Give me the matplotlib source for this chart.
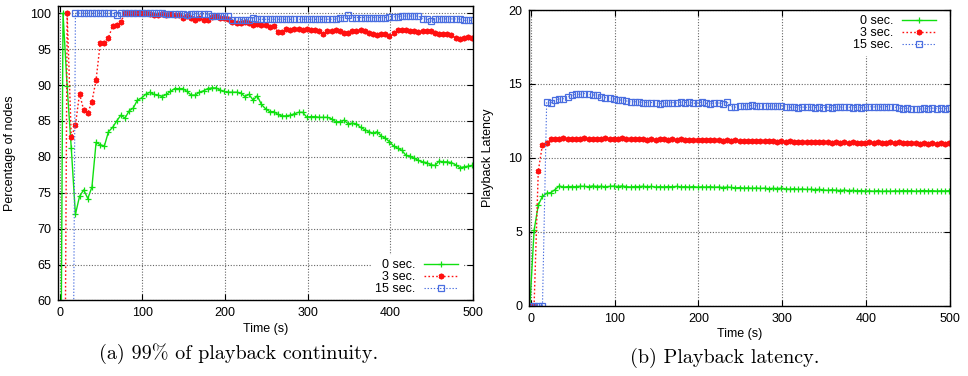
import numpy as np
import matplotlib
matplotlib.use('Agg')
import matplotlib.pyplot as plt

plt.rcParams['font.family'] = ['Liberation Sans', 'DejaVu Sans']

# sampled every 5 s (first sample at -1 s)
cont_0s = [0, 100, 89.8, 81.2, 72.0, 74.5, 75.4, 74.2, 75.8, 82.0,
           81.7, 81.5, 83.5, 84.1, 85.0, 85.8, 85.4, 86.4, 86.8, 87.9,
           88.2, 88.7, 89.0, 88.7, 88.6, 88.4, 88.7, 89.1, 89.5, 89.5,
           89.5, 89.1, 88.6, 88.6, 89.0, 89.2, 89.5, 89.6, 89.6, 89.3,
           89.1, 89.0, 89.0, 89.0, 88.9, 88.4, 88.7, 87.9, 88.5, 87.3,
           86.7, 86.3, 86.3, 85.9, 85.7, 85.7, 85.8, 86.0, 86.2, 86.2,
           85.5, 85.6, 85.6, 85.5, 85.5, 85.5, 85.3, 84.9, 84.9, 85.1,
           84.6, 84.7, 84.6, 84.1, 83.8, 83.5, 83.3, 83.5, 82.9, 82.6,
           82.1, 81.5, 81.2, 80.9, 80.2, 80.1, 79.8, 79.5, 79.3, 79.2,
           78.9, 78.8, 79.4, 79.3, 79.3, 79.2, 78.9, 78.5, 78.6, 78.7,
           78.8]
cont_3s = [0, 0, 100, 82.7, 84.4, 88.8, 86.5, 86.1, 87.7, 90.7,
           95.8, 95.9, 96.6, 98.2, 98.4, 98.8, 100, 100, 100, 100,
           100, 100, 99.9, 99.8, 99.8, 99.9, 99.8, 99.9, 99.8, 99.8,
           99.4, 99.6, 99.3, 99.0, 99.3, 99.0, 99.1, 99.5, 99.6, 99.4,
           99.3, 99.2, 98.8, 98.6, 98.7, 98.8, 98.6, 98.4, 98.5, 98.4,
           98.4, 98.1, 98.2, 97.4, 97.4, 97.8, 97.7, 97.8, 97.8, 97.7,
           97.8, 97.7, 97.6, 97.5, 97.1, 97.5, 97.5, 97.7, 97.5, 97.3,
           97.3, 97.5, 97.5, 97.7, 97.5, 97.2, 97.1, 97.0, 97.1, 97.1,
           96.8, 97.3, 97.6, 97.7, 97.7, 97.5, 97.5, 97.4, 97.5, 97.5,
           97.5, 97.2, 97.1, 97.1, 97.1, 97.0, 96.6, 96.4, 96.5, 96.7,
           96.6]
cont_15s = [0, 0, 0, 0,
            100, 100, 100, 100, 100, 100, 100, 100, 100, 100,
            99.8,
            100, 100, 100, 100, 100, 100, 100, 100, 100, 100, 100,
            99.9, 99.9, 99.9, 99.9, 99.9,
            99.7,
            99.85, 99.85, 99.85, 99.85, 99.85,
            99.6, 99.6, 99.6, 99.6, 99.6,
            99.1, 99.1, 99.1, 99.1, 99.1,
            99.4,
            99.15, 99.15, 99.15, 99.15, 99.15, 99.15, 99.15, 99.15, 99.15, 99.15,
            99.15, 99.15, 99.15, 99.15, 99.15, 99.15, 99.15, 99.15, 99.15, 99.15,
            99.4, 99.4,
            99.7,
            99.4, 99.4, 99.4, 99.4, 99.4, 99.4, 99.4, 99.4, 99.4,
            99.5, 99.5, 99.5,
            99.6, 99.6, 99.6, 99.6, 99.6,
            99.2, 99.2,
            98.9,
            99.2, 99.2, 99.2, 99.2, 99.2, 99.2, 99.2,
            99.0, 99.0, 99.0]

lat_0s = [0, 5.1, 6.8, 7.4, 7.6, 7.65, 7.85, 8.1,
          8.02, 8.05, 8.06, 8.05, 8.08, 8.07, 8.05, 8.10, 8.06, 8.08, 8.04, 8.07, 8.09,
          8.06, 8.10, 8.05, 8.03, 8.06, 8.05, 8.08, 8.04, 8.07, 8.02,
          8.05, 8.03, 8.06, 8.04, 8.07, 8.03, 8.05, 8.02, 8.06, 8.01,
          8.04, 8.02, 8.05, 8.01, 8.03, 7.99, 8.02, 8.00, 7.96, 7.99,
          7.95, 7.97, 7.94, 7.96, 7.93, 7.95, 7.91, 7.94, 7.92, 7.95,
          7.90, 7.88, 7.91, 7.87, 7.90, 7.86, 7.88, 7.85, 7.87, 7.83,
          7.80, 7.84, 7.81, 7.79, 7.82, 7.78, 7.80, 7.76, 7.79, 7.75,
          7.77, 7.74, 7.78, 7.73, 7.76, 7.74, 7.77, 7.75, 7.79, 7.76,
          7.78, 7.74, 7.77, 7.79, 7.76, 7.78, 7.75, 7.77, 7.76, 7.78]
lat_3s = [0, 0, 9.1, 10.9, 11.0, 11.3,
          11.30, 11.28, 11.32, 11.25, 11.27, 11.30, 11.26, 11.31, 11.28, 11.25,
          11.29, 11.27, 11.32, 11.26, 11.30,
          11.28, 11.33, 11.27, 11.30, 11.25, 11.29, 11.26, 11.24, 11.28, 11.22,
          11.25, 11.27, 11.21, 11.26, 11.23, 11.25, 11.20, 11.24, 11.22, 11.19,
          11.23, 11.20, 11.24, 11.18, 11.21, 11.17, 11.20, 11.16, 11.19, 11.14,
          11.17, 11.15, 11.12, 11.16, 11.13, 11.15, 11.11, 11.14, 11.10, 11.12,
          11.08, 11.11, 11.07, 11.10, 11.06, 11.09, 11.05, 11.08, 11.04, 11.07,
          11.05, 11.02, 11.06, 11.03, 11.05, 11.01, 11.04, 11.00, 11.03, 11.01,
          11.04, 11.02, 11.05, 11.01, 11.03, 11.06, 11.02, 11.04, 10.99, 11.03,
          11.00, 11.02, 10.97, 11.00, 10.96, 10.99, 10.95, 10.98, 10.96, 10.99]
lat_15s = [0, 0, 0, 0,
           13.76, 13.69, 13.92, 13.98, 14.00, 14.10, 14.23, 14.30, 14.30, 14.35,
           14.30, 14.25, 14.25, 14.13, 14.07, 14.07, 14.00, 13.92, 13.90, 13.85,
           13.78, 13.80, 13.78, 13.74, 13.74, 13.74, 13.69, 13.67, 13.69, 13.71,
           13.74, 13.71, 13.78, 13.74, 13.76, 13.69, 13.71, 13.78, 13.69, 13.67,
           13.71, 13.71, 13.67, 13.78,
           13.47, 13.43, 13.50, 13.53, 13.50, 13.55, 13.52, 13.50, 13.53, 13.49,
           13.52, 13.50, 13.53,
           13.45, 13.42, 13.44, 13.40, 13.43, 13.41, 13.44, 13.40, 13.42, 13.39,
           13.43, 13.40, 13.42, 13.44, 13.41, 13.43, 13.40, 13.42, 13.39, 13.41,
           13.47, 13.44, 13.46, 13.43, 13.47, 13.45, 13.44, 13.36, 13.33, 13.35,
           13.31, 13.33, 13.30, 13.34, 13.32, 13.36, 13.33, 13.35, 13.32, 13.36]

labels = ['0 sec.', '3 sec.', '15 sec.']
x_ticks = [0, 100, 200, 300, 400, 500]
FS = 9


def times(vals):
    return np.arange(len(vals)) * 5 - 1


def draw(ax, series):
    styles = [dict(color='#10e010', ls='-', lw=1.0, marker='+', ms=5, mew=0.9),
              dict(color='#ff1010', ls=(0, (1.2, 1.6)), lw=1.0, marker=(6, 2, 0), ms=4, mew=1.3),
              dict(color='#4a6ee0', ls=(0, (1.2, 1.6)), lw=0.8, marker='s', ms=4,
                   mfc='none', mew=0.9)]
    for vals, lab, st in zip(series, labels, styles):
        ax.plot(times(vals), vals, label=lab, **st)
    ax.grid(True, color='0.4', ls=(0, (1, 1.5)), lw=0.8)
    ax.set_axisbelow(True)
    ax.tick_params(direction='in', top=True, right=True, length=4,
                   labelsize=FS, pad=5, color='black')
    for s in ax.spines.values():
        s.set_linewidth(1.0)
        s.set_zorder(6)
    ax.set_xticks(x_ticks)
    ax.set_xlabel('Time (s)', fontsize=FS)


def legend(ax, loc, anchor):
    ax.legend(loc=loc, bbox_to_anchor=anchor, fontsize=FS,
              markerfirst=False, numpoints=1, handlelength=2.7,
              handletextpad=0.7, labelspacing=0.0, borderpad=0.35,
              borderaxespad=0, fancybox=False, framealpha=1,
              facecolor='white', edgecolor='none')


fig = plt.figure(figsize=(9.68, 3.76), dpi=100)
ax1 = fig.add_axes([0.0604, 0.2008, 0.4282, 0.7832])
ax2 = fig.add_axes([0.5468, 0.187, 0.4346, 0.7864])

draw(ax1, [cont_0s, cont_3s, cont_15s])
ax1.set_xlim(-1.5, 500)
ax1.set_ylim(60, 101)
ax1.set_yticks(range(60, 101, 5))
ax1.set_ylabel('Percentage of nodes', fontsize=FS)
ax1.yaxis.set_label_coords(-0.102, 0.5)
ax1.xaxis.set_label_coords(0.5, -0.076)
legend(ax1, 'lower right', (0.975, 0.003))

draw(ax2, [lat_0s, lat_3s, lat_15s])
ax2.set_xlim(-1.7, 500)
ax2.set_ylim(0, 20)
ax2.set_yticks(range(0, 21, 5))
ax2.set_ylabel('Playback Latency', fontsize=FS)
ax2.yaxis.set_label_coords(-0.084, 0.5)
ax2.xaxis.set_label_coords(0.5, -0.075)
legend(ax2, 'upper right', (0.977, 0.997))

fig.text(239 / 968, 1 - 354 / 376, '(a) 99% of playback continuity.',
         family='cmr10', fontsize=14.5, ha='center', va='center')
fig.text(725 / 968, 1 - 358 / 376, '(b) Playback latency.',
         family='cmr10', fontsize=14.5, ha='center', va='center')

fig.savefig('out.png', dpi=100)
